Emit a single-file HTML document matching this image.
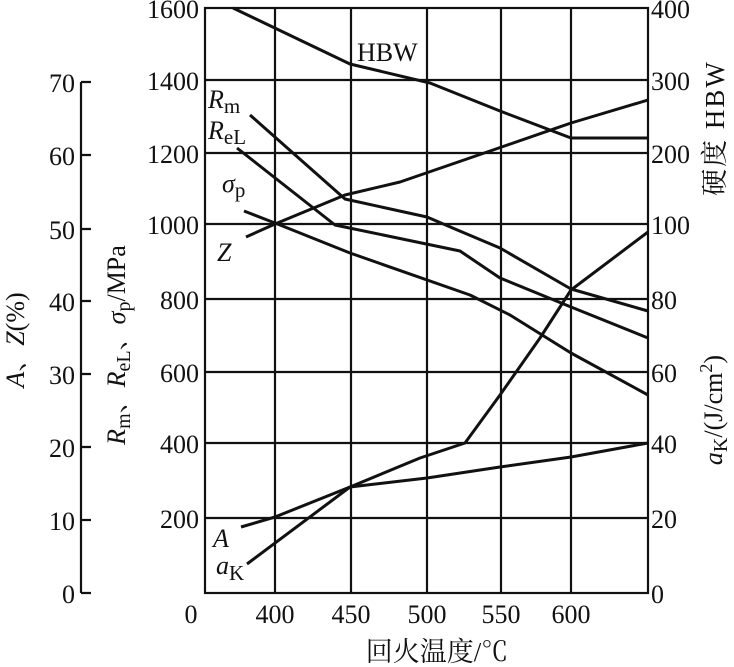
<!DOCTYPE html>
<html><head><meta charset="utf-8"><style>
html,body{margin:0;padding:0;background:#fff;}
svg{display:block;}
text{font-family:"Liberation Serif","Times New Roman","Noto Serif CJK SC",serif;fill:#111;}
</style></head><body>
<svg width="734" height="667" viewBox="0 0 734 667" xmlns="http://www.w3.org/2000/svg">
<g stroke="#111" stroke-width="2.2" fill="none">
<rect x="205" y="8" width="443" height="585"/>
<path d="M275 8V593M351 8V593M427 8V593M501 8V593M571 8V593"/>
<path d="M205 80H648M205 153H648M205 224H648M205 299H648M205 372H648M205 443H648M205 518H648"/>
<path d="M81 82V593M81 82H91M81 155H91M81 229H91M81 301H91M81 374H91M81 447H91M81 520H91M81 593H91"/>
</g>
<g stroke="#111" stroke-width="3" fill="none" stroke-linejoin="round">
<polyline points="233,8 350,64 430,83 500,111 571,138 648,138"/>
<polyline points="246,237 275,224 345,195 400,182 493,150 571,123 648,100"/>
<polyline points="250,115 345,199 427,217 455,229 500,248 571,289 648,311"/>
<polyline points="237,148 335,225 460,251 500,278 571,307 648,338"/>
<polyline points="244,211 280,225 350,253 470,295 510,315 571,353 648,395"/>
<polyline points="247,564 350,487 420,458 465,443 500,395 540,338 571,290 648,232"/>
<polyline points="241,527 275,517 350,487 427,478 500,467 571,457 648,443"/>
</g>
<g font-size="26" text-anchor="end">
<text x="199" y="18">1600</text><text x="199" y="90">1400</text><text x="199" y="163">1200</text><text x="199" y="234">1000</text><text x="199" y="309">800</text><text x="199" y="382">600</text><text x="199" y="453">400</text><text x="199" y="528">200</text>
<text x="75" y="92">70</text><text x="75" y="165">60</text><text x="75" y="239">50</text><text x="75" y="311">40</text><text x="75" y="384">30</text><text x="75" y="457">20</text><text x="75" y="530">10</text><text x="75" y="603">0</text>
</g>
<g font-size="26" text-anchor="start">
<text x="651" y="18">400</text><text x="651" y="90">300</text><text x="651" y="163">200</text><text x="651" y="234">100</text><text x="651" y="309">80</text><text x="651" y="382">60</text><text x="651" y="453">40</text><text x="651" y="528">20</text><text x="651" y="603">0</text>
</g>
<g font-size="26" text-anchor="middle">
<text x="191" y="623">0</text><text x="275" y="623">400</text><text x="351" y="623">450</text><text x="427" y="623">500</text><text x="501" y="623">550</text><text x="571" y="623">600</text>
<text x="437" y="661" font-size="27">回火温度/℃</text>
</g>
<text x="357" y="61" font-size="26">HBW</text>
<g font-size="26" font-style="italic">
<text x="208" y="108">R<tspan font-style="normal" font-size="21" dy="5">m</tspan></text>
<text x="208" y="139">R<tspan font-style="normal" font-size="21" dy="5">eL</tspan></text>
<text x="222" y="192">σ<tspan font-style="normal" font-size="21" dy="5">p</tspan></text>
<text x="217" y="261">Z</text>
<text x="213" y="547">A</text>
<text x="216" y="574">a<tspan font-style="normal" font-size="21" dy="6">K</tspan></text>
</g>
<text transform="translate(24,340) rotate(-90)" font-size="26" text-anchor="middle"><tspan font-style="italic">A</tspan>、<tspan font-style="italic">Z</tspan>(%)</text>
<text transform="translate(125,345) rotate(-90)" font-size="26" text-anchor="middle"><tspan font-style="italic">R</tspan><tspan font-size="20" dy="5">m</tspan><tspan dy="-5">、</tspan><tspan font-style="italic">R</tspan><tspan font-size="20" dy="5">eL</tspan><tspan dy="-5">、</tspan><tspan font-style="italic">σ</tspan><tspan font-size="20" dy="5">p</tspan><tspan dy="-5">/MPa</tspan></text>
<text transform="translate(724,128) rotate(-90)" font-size="27" text-anchor="middle" letter-spacing="2">硬度  HBW</text>
<text transform="translate(722,410) rotate(-90)" font-size="26" text-anchor="middle"><tspan font-style="italic">a</tspan><tspan font-size="20" dy="5">K</tspan><tspan dy="-5">/(J/cm</tspan><tspan font-size="18" dy="-10">2</tspan><tspan dy="10">)</tspan></text>
</svg>
</body></html>
